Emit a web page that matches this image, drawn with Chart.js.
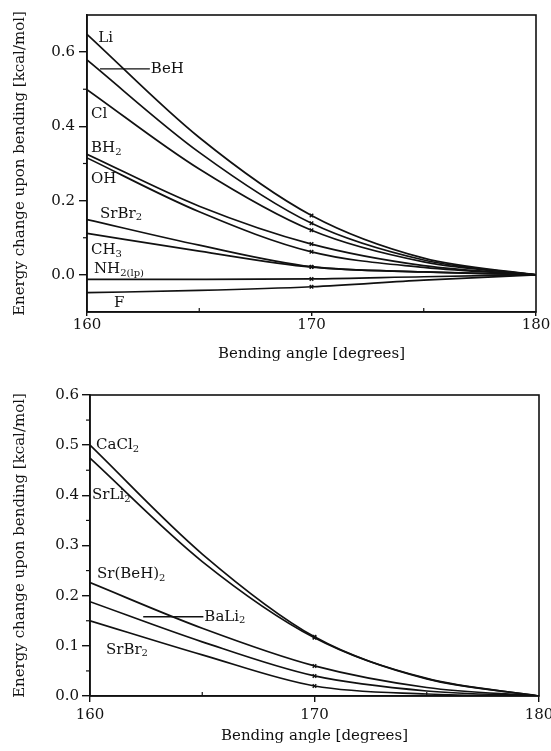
<!DOCTYPE html>
<html>
<head>
<meta charset="utf-8">
<script src="https://cdn.jsdelivr.net/npm/chart.js@4.4.1/dist/chart.umd.min.js"></script>
<style>
  body { margin: 0; background: #fff; }
  #wrapTop { position: absolute; left: 0; top: 0; }
  #wrapBottom { position: absolute; left: 0; top: 365px; }
</style>
</head>
<body>
<div id="wrapTop"><canvas id="chartTop" width="551" height="365"></canvas></div>
<div id="wrapBottom"><canvas id="chartBottom" width="551" height="386"></canvas></div>
<script>
/* eslint-disable no-undef */
const angles = [160, 165, 170, 175, 180];

// upper panel
const li = [0.648, 0.37, 0.16, 0.045, 0];
const beh = [0.579, 0.33, 0.139, 0.04, 0];
const cl = [0.499, 0.285, 0.12, 0.035, 0];
const bh2 = [0.325, 0.185, 0.083, 0.025, 0];
const oh = [0.315, 0.17, 0.062, 0.02, 0];
const srbr2Top = [0.149, 0.08, 0.022, 0.008, 0];
const ch3 = [0.112, 0.064, 0.021, 0.008, 0];
const nh2 = [-0.012, -0.012, -0.011, -0.005, 0];
const fl = [-0.048, -0.042, -0.032, -0.014, 0];

// lower panel
const cacl2 = [0.5, 0.283, 0.118, 0.035, 0];
const srli2 = [0.474, 0.268, 0.116, 0.034, 0];
const srbeh2 = [0.226, 0.135, 0.06, 0.017, 0];
const bali2 = [0.188, 0.108, 0.04, 0.01, 0];
const srbr2 = [0.15, 0.082, 0.02, 0.004, 0];

const xTicks = [160, 170, 180];
const yTicksTop = [0, 0.2, 0.4, 0.6];
const yTicksBottom = [0, 0.1, 0.2, 0.3, 0.4, 0.5, 0.6];

const xTitle = 'Bending angle [degrees]';
const yTitle = 'Energy change upon bending [kcal/mol]';

const FONT = "'DejaVu Serif', 'Liberation Serif', serif";
const INK = '#111';

// curve labels, in data units; "_" starts a subscript
const labelsTop = [
  { text: 'Li', x: 160.5, y: 0.637 },
  { text: 'BeH', x: 162.8, y: 0.555, lead: 160.58 },
  { text: 'Cl', x: 160.18, y: 0.432 },
  { text: 'BH_2', x: 160.18, y: 0.341 },
  { text: 'OH', x: 160.18, y: 0.259 },
  { text: 'SrBr_2', x: 160.58, y: 0.165 },
  { text: 'CH_3', x: 160.18, y: 0.067 },
  { text: 'NH_2(lp)', x: 160.31, y: 0.016 },
  { text: 'F', x: 161.2, y: -0.075 },
];
const labelsBottom = [
  { text: 'CaCl_2', x: 160.27, y: 0.5 },
  { text: 'SrLi_2', x: 160.09, y: 0.4 },
  { text: 'Sr(BeH)_2', x: 160.31, y: 0.242 },
  { text: 'BaLi_2', x: 165.05, y: 0.158, lead: 162.37 },
  { text: 'SrBr_2', x: 160.71, y: 0.092 },
];

const framePlugin = {
  id: 'frame',
  afterDatasetsDraw(chart, args, opts) {
    const { ctx, chartArea: a, scales: { x, y } } = chart;
    ctx.save();
    ctx.strokeStyle = INK;
    ctx.lineWidth = 1.6;
    ctx.strokeRect(a.left, a.top, a.right - a.left, a.bottom - a.top);

    ctx.lineWidth = 1.2;
    (opts.minorX || []).forEach((v) => {
      const px = x.getPixelForValue(v);
      ctx.beginPath();
      ctx.moveTo(px, a.bottom);
      ctx.lineTo(px, a.bottom - 4);
      ctx.stroke();
    });
    (opts.minorY || []).forEach((v) => {
      const py = y.getPixelForValue(v);
      ctx.beginPath();
      ctx.moveTo(a.left, py);
      ctx.lineTo(a.left - 4, py);
      ctx.stroke();
    });

    ctx.fillStyle = INK;
    ctx.textBaseline = 'middle';
    (opts.labels || []).forEach((l) => {
      let px = x.getPixelForValue(l.x);
      const py = y.getPixelForValue(l.y);
      if (l.lead !== undefined) {
        ctx.lineWidth = 1.4;
        ctx.beginPath();
        ctx.moveTo(x.getPixelForValue(l.lead), py);
        ctx.lineTo(px, py);
        ctx.stroke();
        px += 1;
      }
      const [main, sub] = l.text.split('_');
      ctx.font = `15px ${FONT}`;
      ctx.fillText(main, px, py);
      if (sub) {
        const w = ctx.measureText(main).width;
        ctx.font = `10px ${FONT}`;
        ctx.fillText(sub, px + w, py + 4);
      }
    });
    ctx.restore();
  },
};

const makeData = (list) => ({
  datasets: list.map(([name, values]) => ({
    label: name,
    data: angles.map((a, i) => ({ x: a, y: values[i] })),
  })),
});

const makeChart = (id, data, cfg) => new Chart(document.getElementById(id), {
  type: 'line',
  data,
  plugins: [framePlugin],
  options: {
    responsive: false,
    animation: false,
    layout: { padding: cfg.padding },
    elements: {
      line: {
        borderColor: INK,
        borderWidth: 1.7,
        cubicInterpolationMode: 'monotone',
        fill: false,
      },
      point: {
        pointStyle: 'crossRot',
        borderColor: INK,
        borderWidth: 1.4,
        radius: (c) => (angles[c.dataIndex] === 170 ? 2.5 : 0),
      },
    },
    plugins: {
      legend: { display: false },
      tooltip: { enabled: false },
      frame: { labels: cfg.labels, minorX: [165, 175], minorY: cfg.minorY },
    },
    scales: {
      x: {
        type: 'linear',
        min: 160,
        max: 180,
        afterBuildTicks: (s) => { s.ticks = xTicks.map((v) => ({ value: v })); },
        afterFit: (s) => {
          s.height = cfg.xHeight;
          s.paddingLeft = 0;
          s.paddingRight = 0;
        },
        ticks: { color: INK, font: { family: FONT, size: 15 }, padding: cfg.xPad },
        grid: { drawOnChartArea: false, tickLength: cfg.xTick, color: INK, lineWidth: 1.4 },
        border: { color: INK, width: 1.6 },
        title: {
          display: true,
          text: xTitle,
          color: INK,
          font: { family: FONT, size: 15 },
          padding: { top: 0, bottom: cfg.xTitlePad },
        },
      },
      y: {
        type: 'linear',
        min: cfg.yMin,
        max: cfg.yMax,
        afterBuildTicks: (s) => { s.ticks = cfg.yTicks.map((v) => ({ value: v })); },
        afterFit: (s) => {
          s.width = cfg.yWidth;
          s.paddingTop = 0;
          s.paddingBottom = 0;
        },
        ticks: {
          color: INK,
          font: { family: FONT, size: 15 },
          padding: cfg.yPad,
          callback: (v) => v.toFixed(1),
        },
        grid: { drawOnChartArea: false, tickLength: 8, color: INK, lineWidth: 1.4 },
        border: { color: INK, width: 1.6 },
        title: {
          display: true,
          text: yTitle,
          color: INK,
          font: { family: FONT, size: 15 },
          padding: { top: 11, bottom: 0 },
        },
      },
    },
  },
});

document.addEventListener('DOMContentLoaded', () => {
  makeChart('chartTop', makeData([
    ['Li', li], ['BeH', beh], ['Cl', cl], ['BH2', bh2], ['OH', oh],
    ['SrBr2', srbr2Top], ['CH3', ch3], ['NH2(lp)', nh2], ['F', fl],
  ]), {
    padding: { top: 15, right: 15, left: 0, bottom: 0 },
    yMin: -0.1,
    yMax: 0.7,
    yTicks: yTicksTop,
    minorY: [0.1, 0.3, 0.5],
    yWidth: 87,
    yPad: 4,
    xHeight: 53,
    xTick: 4,
    xPad: 0,
    xTitlePad: 2,
    labels: labelsTop,
  });

  makeChart('chartBottom', makeData([
    ['CaCl2', cacl2], ['SrLi2', srli2], ['Sr(BeH)2', srbeh2],
    ['BaLi2', bali2], ['SrBr2', srbr2],
  ]), {
    padding: { top: 30, right: 12, left: 0, bottom: 0 },
    yMin: 0,
    yMax: 0.6,
    yTicks: yTicksBottom,
    minorY: [0.05, 0.15, 0.25, 0.35, 0.45, 0.55],
    yWidth: 90,
    yPad: 3,
    xHeight: 55,
    xTick: 6,
    xPad: 4,
    xTitlePad: 6,
    labels: labelsBottom,
  });
});
</script>
</body>
</html>
